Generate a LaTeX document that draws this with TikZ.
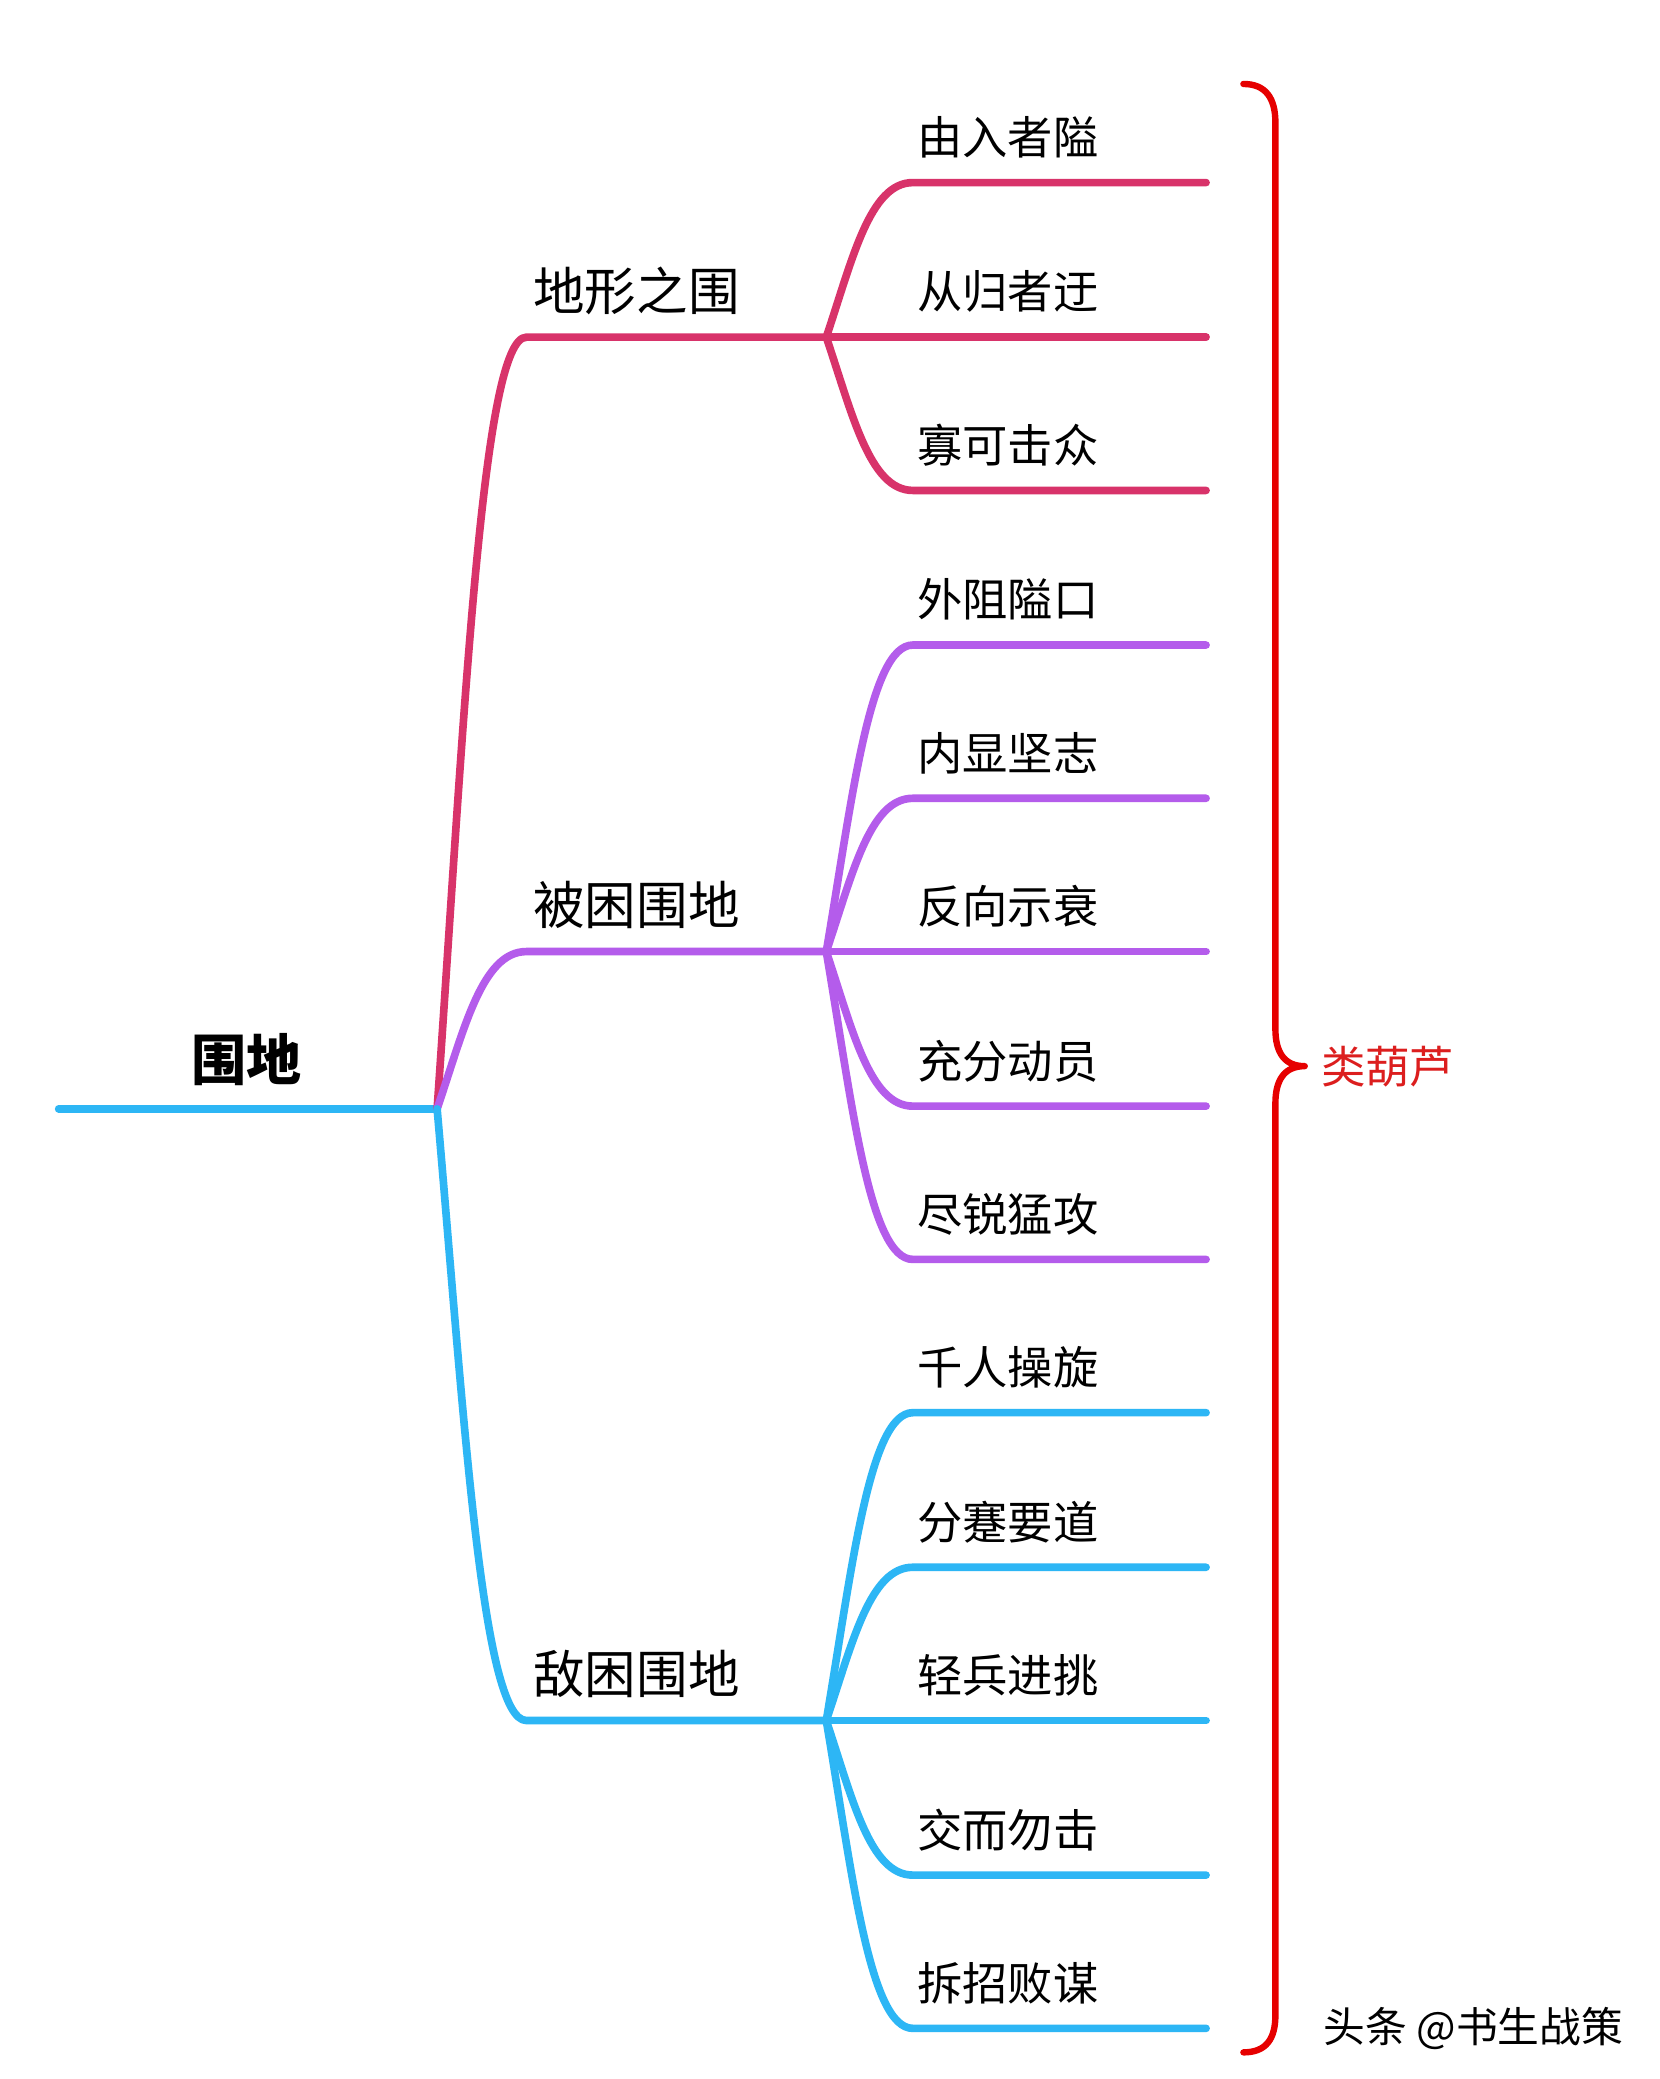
\documentclass[tikz,border=0pt]{standalone}
\usepackage{fontspec}
\newfontfamily\cjk{Noto Sans CJK SC}
\usetikzlibrary{calc}
\definecolor{cred}{HTML}{D8336A}
\definecolor{cpur}{HTML}{B45CEB}
\definecolor{cblue}{HTML}{2DB6F5}
\definecolor{bracered}{HTML}{E60000}
\definecolor{labred}{HTML}{DC1E1E}
\tikzset{
  br/.style={line width=4.3pt, line cap=round, line join=round},
  bracestyle/.style={line width=3.6pt, line cap=round, line join=round, draw=bracered},
  leaftext/.style={font=\cjk\fontsize{25.5}{30}\selectfont, anchor=west, inner sep=0pt},
  midtext/.style={font=\cjk\fontsize{29}{34}\selectfont, anchor=west, inner sep=0pt},
  roottext/.style={font=\cjk\bfseries\fontsize{31}{36}\selectfont, inner sep=0pt},
  gourdtext/.style={font=\cjk\fontsize{25}{30}\selectfont, anchor=west, inner sep=0pt, text=labred},
  wmtext/.style={font=\cjk\fontsize{23.5}{28}\selectfont, anchor=west, inner sep=0pt},
}
% connector: colour, start, corner, end
\newcommand\mmconn[4]{\draw[br,draw=#1] let \p1=(#2), \p2=(#3) in (\p1) .. controls ({\x1+0.3*(\x2-\x1)},{\y1+0.5*(\y2-\y1)}) and ({\x1+0.5*(\x2-\x1)},\y2) .. (\p2) -- (#4);}
\begin{document}
\begin{tikzpicture}[x=0.75pt,y=-0.75pt]
\useasboundingbox (0,0) rectangle (1245,1560);
\fill[white] (0,0) rectangle (1245,1560);

% root
\coordinate (R0) at (44,832);
\coordinate (J0) at (328,832);
\node[roottext] (root) at (185,795) {围地};
\draw[br,draw=cblue] (R0) -- (J0);

% level 1
\coordinate (Ca) at (395,253);  \coordinate (Sa) at (620,253);
\coordinate (Cb) at (395,714);  \coordinate (Sb) at (620,714);
\coordinate (Cc) at (395,1291); \coordinate (Sc) at (620,1291);
\mmconn{cred}{J0}{Ca}{Sa}
\mmconn{cpur}{J0}{Cb}{Sb}
\mmconn{cblue}{J0}{Cc}{Sc}
\node[midtext] (ta) at (400,218) {地形之围};
\node[midtext] (tb) at (400,679) {被困围地};
\node[midtext] (tc) at (400,1256) {敌困围地};

% leaves
\foreach \nm/\yy/\tx/\cl/\sj in {
  a1/137/由入者隘/cred/Sa, a2/253/从归者迂/cred/Sa, a3/368/寡可击众/cred/Sa,
  b1/484/外阻隘口/cpur/Sb, b2/599/内显坚志/cpur/Sb, b3/714/反向示衰/cpur/Sb,
  b4/830/充分动员/cpur/Sb, b5/945/尽锐猛攻/cpur/Sb,
  c1/1060/千人操旋/cblue/Sc, c2/1176/分蹇要道/cblue/Sc, c3/1291/轻兵进挑/cblue/Sc,
  c4/1407/交而勿击/cblue/Sc, c5/1522/拆招败谋/cblue/Sc}{
  \coordinate (K\nm) at (685,\yy);
  \coordinate (E\nm) at (905,\yy);
  \mmconn{\cl}{\sj}{K\nm}{E\nm}
  \node[leaftext] (T\nm) at (688,\yy-34) {\tx};
}

% brace
\coordinate (btop) at (933,63);
\coordinate (tip) at (979,800);
\coordinate (bbot) at (933,1540);
\draw[bracestyle] (btop) .. controls (950,63) and (957,74) .. (957,92)
  -- (957,772) .. controls (957,790) and (964,800) .. (tip)
  .. controls (964,800) and (957,810) .. (957,828)
  -- (957,1512) .. controls (957,1530) and (950,1540) .. (bbot);
\node[gourdtext] (gourd) at (991,800) {类葫芦};

% watermark
\node[wmtext] (wm) at (993,1522) {头条 @书生战策};
\end{tikzpicture}
\end{document}
